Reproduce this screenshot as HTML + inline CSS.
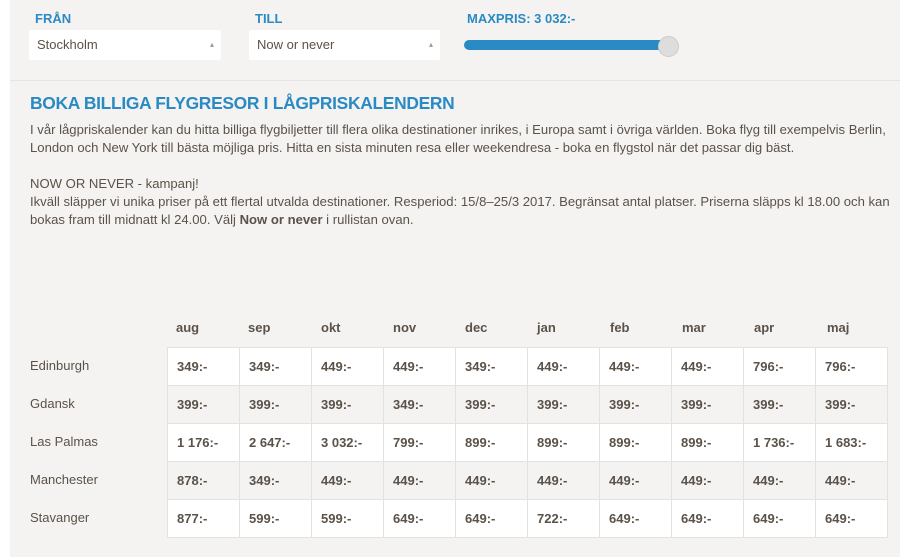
<!DOCTYPE html><html><head><style>
body{margin:0;width:900px;height:557px;background:#fff;font-family:"Liberation Sans",sans-serif;color:#5b5249;overflow:hidden;position:relative}
.bg{position:absolute;left:10px;top:0;width:890px;height:557px;background:#f4f3f2}
.a{position:absolute;white-space:nowrap}
.lbl{color:#2a8ac4;font-weight:bold;font-size:13px;top:11px}
.sel{background:#fff;top:30px;height:30px;border-radius:2px;font-size:13px;line-height:30px;padding-left:8px;box-sizing:border-box;color:#5b5249}
.sel span{position:absolute;right:7px;top:0;font-size:8px;color:#999}
p{margin:0}
td{height:37px;border:1px solid #e4e2df;padding:0 0 0 9px;font-size:13px;font-weight:bold;width:62px}
table{border-collapse:collapse;position:absolute;left:167px;top:347px}
tr:nth-child(odd) td{background:#fff}tr:nth-child(even) td{background:#f4f3f2}
</style></head><body>
<div class="bg"></div>
<div class="a lbl" style="left:35px">FRÅN</div>
<div class="a lbl" style="left:255px">TILL</div>
<div class="a lbl" style="left:467px">MAXPRIS: 3 032:-</div>
<div class="a sel" style="left:29px;width:192px">Stockholm<span>▴</span></div>
<div class="a sel" style="left:249px;width:191px">Now or never<span>▴</span></div>
<div class="a" style="left:464px;top:40px;width:210px;height:10px;background:#2a8ac4;border-radius:5px"></div>
<div class="a" style="left:658px;top:36px;width:19px;height:19px;background:#ddd;border-radius:50%;border:1px solid #ccc"></div>
<div class="a" style="left:10px;top:80px;width:890px;height:1px;background:#e6e4e1"></div>
<div class="a" style="left:30px;top:93px;font-size:17.4px;font-weight:bold;color:#2a8ac4;letter-spacing:-0.3px">BOKA BILLIGA FLYGRESOR I LÅGPRISKALENDERN</div>
<div class="a" style="left:30px;top:121px;font-size:13.1px;line-height:18px">
<p>I vår lågpriskalender kan du hitta billiga flygbiljetter till flera olika destinationer inrikes, i Europa samt i övriga världen. Boka flyg till exempelvis Berlin,</p>
<p>London och New York till bästa möjliga pris. Hitta en sista minuten resa eller weekendresa - boka en flygstol när det passar dig bäst.</p>
<p>&nbsp;</p>
<p>NOW OR NEVER - kampanj!</p>
<p>Ikväll släpper vi unika priser på ett flertal utvalda destinationer. Resperiod: 15/8–25/3 2017. Begränsat antal platser. Priserna släpps kl 18.00 och kan</p>
<p>bokas fram till midnatt kl 24.00. Välj <b>Now or never</b> i rullistan ovan.</p></div>
<div class="a" style="top:320px;left:176px;font-size:13px;font-weight:bold">
<span class="a" style="left:0">aug</span><span class="a" style="left:72px">sep</span><span class="a" style="left:145px">okt</span><span class="a" style="left:217px">nov</span><span class="a" style="left:289px">dec</span><span class="a" style="left:361px">jan</span><span class="a" style="left:434px">feb</span><span class="a" style="left:506px">mar</span><span class="a" style="left:578px">apr</span><span class="a" style="left:651px">maj</span></div>
<div class="a" style="left:30px;top:347px;font-size:13px;line-height:38px">Edinburgh<br>Gdansk<br>Las Palmas<br>Manchester<br>Stavanger</div>
<table>
<tr><td>349:-</td><td>349:-</td><td>449:-</td><td>449:-</td><td>349:-</td><td>449:-</td><td>449:-</td><td>449:-</td><td>796:-</td><td>796:-</td></tr>
<tr><td>399:-</td><td>399:-</td><td>399:-</td><td>349:-</td><td>399:-</td><td>399:-</td><td>399:-</td><td>399:-</td><td>399:-</td><td>399:-</td></tr>
<tr><td>1 176:-</td><td>2 647:-</td><td>3 032:-</td><td>799:-</td><td>899:-</td><td>899:-</td><td>899:-</td><td>899:-</td><td>1 736:-</td><td>1 683:-</td></tr>
<tr><td>878:-</td><td>349:-</td><td>449:-</td><td>449:-</td><td>449:-</td><td>449:-</td><td>449:-</td><td>449:-</td><td>449:-</td><td>449:-</td></tr>
<tr><td>877:-</td><td>599:-</td><td>599:-</td><td>649:-</td><td>649:-</td><td>722:-</td><td>649:-</td><td>649:-</td><td>649:-</td><td>649:-</td></tr>
</table>
</body></html>
